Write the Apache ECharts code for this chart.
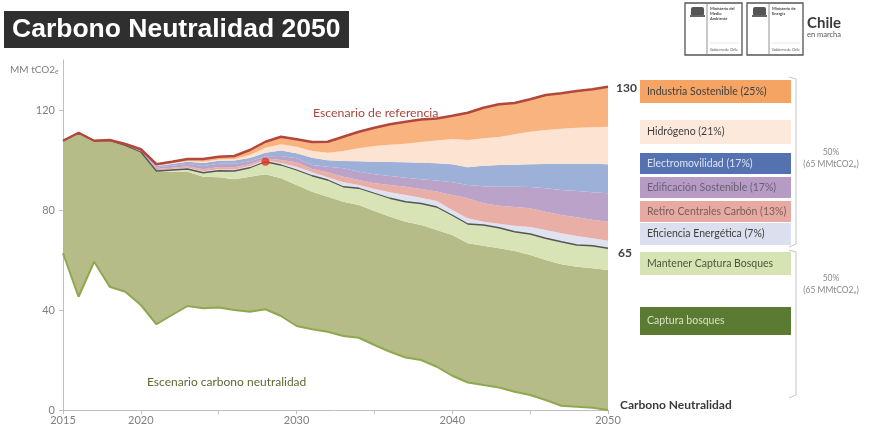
<!DOCTYPE html>
<html><head><meta charset="utf-8">
<script src="https://cdn.jsdelivr.net/npm/echarts@6/dist/echarts.min.js"></script>
<style>html,body{margin:0;padding:0;background:#fff}#c{width:870px;height:432px}</style>
</head><body><div id="c"></div>
<script>
const years = ['2015','2016','2017','2018','2019','2020','2021','2022','2023','2024','2025','2026','2027','2028','2029','2030','2031','2032','2033','2034','2035','2036','2037','2038','2039','2040','2041','2042','2043','2044','2045','2046','2047','2048','2049','2050'];
const xTickLabels = ['2015','2020','2030','2040','2050'];
// Escenario carbono neutralidad (emisiones netas)
const netNeutral = [62.7,45.3,59.3,49.3,47.3,42.0,34.3,38.0,41.6,40.7,41.0,40.0,39.3,40.3,37.6,33.6,32.3,31.3,29.6,28.9,26.0,23.3,21.0,20.0,17.3,13.7,11.0,10.0,9.0,7.3,6.0,4.0,1.7,1.3,0.9,0.0];
const capturaBosques = [45.0,65.6,48.4,58.5,58.5,61.2,61.3,57.3,53.7,52.6,52.1,52.3,54.0,54.0,55.1,56.4,55.0,54.0,53.7,53.1,53.6,54.0,54.3,54.0,54.7,56.3,55.7,55.7,55.7,56.3,56.0,56.0,56.6,56.0,55.8,56.0];
const mantenerCaptura = [0,0,0,0,0,0,0,0.7,1.1,1.6,2.6,3.3,3.6,5.0,5.3,6.0,6.4,6.7,6.0,6.7,7.1,7.4,8.0,8.6,9.2,7.9,7.7,8.3,8.2,7.7,8.4,8.7,9.0,8.7,9.0,8.7];
const eficiencia = [0,0,0,0,0,0.1,0.3,0.4,0.5,0.6,0.6,0.6,0.7,0.6,0.8,1.3,1.4,1.1,1.8,1.3,1.7,2.4,2.7,2.3,2.4,2.1,2.3,1.3,1.6,2.4,2.8,3.3,3.4,3.6,3.0,3.0];
const retiroCarbon = [0,0,0,0.1,0.2,0.3,0.5,0.5,0.6,0.8,0.9,0.9,0.8,0.7,1.2,1.8,1.3,2.0,2.2,2.0,2.3,2.9,3.3,3.5,3.8,6.0,8.0,7.4,7.2,7.5,7.5,7.3,7.3,7.5,7.4,7.6];
const edificacion = [0,0,0,0,0.1,0.2,0.6,0.8,0.9,1.3,1.3,1.4,1.1,0.9,1.6,1.6,1.6,2.2,3.4,3.3,3.6,3.6,3.6,3.9,4.4,5.1,5.3,6.8,7.6,8.1,8.5,9.4,10.0,10.5,11.0,11.4];
const electromovilidad = [0,0,0,0,0.1,0.2,0.6,0.7,0.9,1.2,1.2,1.3,1.3,1.4,2.2,2.0,2.9,2.6,2.9,4.2,5.0,5.6,6.2,6.6,6.9,7.2,7.1,8.2,8.7,8.8,9.1,9.7,10.5,10.9,11.4,11.6];
const hidrogeno = [0,0,0,0,0,0,0.2,0.3,0.3,0.5,0.5,0.6,1.2,2.0,2.5,2.6,2.7,3.0,4.0,5.2,6.3,6.9,7.4,8.3,9.1,10.1,10.9,11.0,11.2,12.2,13.0,13.6,14.0,14.4,14.6,15.0];
const industria = [0,0,0,0.1,0.2,0.3,0.5,0.6,0.8,1.1,1.1,1.2,2.0,2.4,3.0,3.0,3.6,4.4,5.7,6.6,7.3,8.2,8.8,9.0,8.8,9.3,10.9,12.2,13.1,12.5,13.0,14.0,14.2,14.7,15.2,16.0];
const hito = [['2028', 99.3]];
const legendLabels = ['Industria Sostenible (25%)','Hidrógeno (21%)','Electromovilidad (17%)','Edificación Sostenible (17%)','Retiro Centrales Carbón (13%)','Eficiencia Energética (7%)','Mantener Captura Bosques','Captura bosques'];
const endLabels = ['130','65','Carbono Neutralidad'];

const FONT = 'Lato, "Open Sans", sans-serif';
const chart = echarts.init(document.getElementById('c'), null, {renderer:'canvas'});

function band(name, data, color, extra){
  return Object.assign({
    name, type:'line', stack:'total', data, symbol:'none', showSymbol:false,
    lineStyle:{width:0, opacity:0}, areaStyle:{color, opacity:1}, itemStyle:{color},
    emphasis:{disabled:true}, z:2, animation:false
  }, extra||{});
}

const boxes = [
  {y:80,h:23,fill:'#f5a464',tc:'#3f3f3f'},
  {y:120,h:24,fill:'#fde9dc',tc:'#3f3f3f'},
  {y:153,h:21,fill:'#5572b0',tc:'#dde3f2'},
  {y:177,h:21,fill:'#b69cc5',tc:'#6b5f73'},
  {y:201,h:21,fill:'#e6aaa2',tc:'#7a5e5a'},
  {y:223,h:22,fill:'#dcdfee',tc:'#404040'},
  {y:252,h:23,fill:'#d6e3b3',tc:'#4f5540'},
  {y:307,h:28,fill:'#5a7b31',tc:'#d8e0c8'}
];
const graphics = [];
boxes.forEach((b,i)=>{
  graphics.push({type:'rect', shape:{x:640,y:b.y,width:151,height:b.h}, style:{fill:b.fill}, z:10});
  graphics.push({type:'text', x:647, y:b.y+b.h/2, style:{text:legendLabels[i], fill:b.tc, font:'10.5px '+FONT, verticalAlign:'middle'}, z:11});
});
// brackets
graphics.push({type:'polyline', shape:{points:[[789,77],[796,79],[796,244],[789,247]]}, style:{stroke:'#c4c4c4', lineWidth:1, fill:null}, z:10});
graphics.push({type:'polyline', shape:{points:[[789,250],[796,252],[796,395],[789,398]]}, style:{stroke:'#c4c4c4', lineWidth:1, fill:null}, z:10});
[[152,164],[278,290]].forEach(p=>{
  graphics.push({type:'text', x:831, y:p[0], style:{text:'50%', fill:'#8a8a8a', font:'8.5px '+FONT, align:'center', verticalAlign:'middle'}, z:10});
  graphics.push({type:'text', x:831, y:p[1], style:{text:'(65 MMtCO2{s|e})', fill:'#8a8a8a', font:'8.5px '+FONT, align:'center', verticalAlign:'middle', rich:{s:{fontSize:5.5, fill:'#8a8a8a', padding:[4,0,0,0]}}}, z:10});
});
// title
graphics.push({type:'rect', shape:{x:4,y:11,width:345,height:37}, style:{fill:'#2f2f2f'}, z:10});
graphics.push({type:'text', x:12, y:30, style:{text:'Carbono Neutralidad 2050', fill:'#ffffff', font:'bold 26.5px "Liberation Sans", Arial, sans-serif', verticalAlign:'middle'}, z:11});
// y axis unit
graphics.push({type:'text', x:10, y:70, style:{text:'MM tCO2{s|e}', fill:'#7f7f7f', font:'10px '+FONT, verticalAlign:'middle', rich:{s:{fontSize:6.5, fill:'#7f7f7f', padding:[5,0,0,0]}}}, z:10});
// annotations
graphics.push({type:'text', x:313, y:113, style:{text:'Escenario de referencia', fill:'#a8463d', font:'12.3px '+FONT, verticalAlign:'middle'}, z:10});
graphics.push({type:'text', x:147, y:382, style:{text:'Escenario carbono neutralidad', fill:'#5f6832', font:'12px '+FONT, verticalAlign:'middle'}, z:10});
graphics.push({type:'text', x:616, y:88, style:{text:endLabels[0], fill:'#404040', font:'bold 12px '+FONT, verticalAlign:'middle'}, z:10});
graphics.push({type:'text', x:618, y:253, style:{text:endLabels[1], fill:'#404040', font:'bold 12px '+FONT, verticalAlign:'middle'}, z:10});
graphics.push({type:'text', x:620, y:405, style:{text:endLabels[2], fill:'#3a3a3a', font:'bold 12px '+FONT, verticalAlign:'middle'}, z:10});
// logos
function logo(x, w, div, lines){
  graphics.push({type:'rect', shape:{x:x,y:3,width:w,height:52}, style:{fill:'#fff', stroke:'#555', lineWidth:1.3}, z:10});
  graphics.push({type:'line', shape:{x1:div,y1:4,x2:div,y2:54}, style:{stroke:'#777', lineWidth:0.8}, z:11});
  graphics.push({type:'rect', shape:{x:x+6,y:7,width:13,height:9,r:2}, style:{fill:'#555'}, z:11});
  graphics.push({type:'rect', shape:{x:x+5,y:15,width:15,height:2}, style:{fill:'#666'}, z:11});
  graphics.push({type:'text', x:div+3, y:6, style:{text:lines, fill:'#444', font:'bold 4px '+FONT, lineHeight:5}, z:11});
  graphics.push({type:'line', shape:{x1:div+3,y1:43,x2:x+w-3,y2:43}, style:{stroke:'#ddd', lineWidth:0.6}, z:11});
  graphics.push({type:'text', x:div+3, y:48, style:{text:'Gobierno de Chile', fill:'#555', font:'3.5px '+FONT}, z:11});
}
logo(685, 57, 707, 'Ministerio del\nMedio\nAmbiente');
logo(747, 56, 769, 'Ministerio de\nEnergía');
graphics.push({type:'text', x:807, y:23, style:{text:'Chile', fill:'#3a3a3a', font:'bold 15px '+FONT, verticalAlign:'middle'}, z:10});
graphics.push({type:'text', x:807, y:35, style:{text:'en marcha', fill:'#555', font:'7.5px '+FONT, verticalAlign:'middle'}, z:10});

const option = {
  animation:false,
  backgroundColor:'#ffffff',
  grid:{left:63, right:262, top:60, bottom:22, containLabel:false},
  xAxis:{
    type:'category', data:years, boundaryGap:false,
    axisLine:{show:true, lineStyle:{color:'#bfbfbf', width:1}},
    axisTick:{show:true, interval:(i)=>i%5===0, length:4, lineStyle:{color:'#bfbfbf'}},
    axisLabel:{interval:(i,v)=>xTickLabels.indexOf(v)>=0, color:'#7f7f7f', fontSize:11, fontFamily:FONT, margin:5},
    splitLine:{show:false}
  },
  yAxis:{
    type:'value', min:0, max:140, interval:40,
    axisLine:{show:true, lineStyle:{color:'#bfbfbf', width:1}},
    axisTick:{show:true, length:4, lineStyle:{color:'#bfbfbf'}},
    axisLabel:{color:'#7f7f7f', fontSize:11, fontFamily:FONT, margin:8, showMaxLabel:false},
    splitLine:{show:false}
  },
  series:[
    {name:'Escenario carbono neutralidad', type:'line', stack:'total', data:netNeutral, symbol:'none', showSymbol:false,
     lineStyle:{color:'#8ea84e', width:2}, itemStyle:{color:'#8ea84e'}, z:4, emphasis:{disabled:true}},
    band('Captura bosques', capturaBosques, '#b6bc88'),
    band('Mantener Captura Bosques', mantenerCaptura, '#d8e4b6', {lineStyle:{color:'#555555', width:1.3}, z:4}),
    band('Eficiencia Energética', eficiencia, '#dfe2ef'),
    band('Retiro Centrales Carbón', retiroCarbon, '#e9aea5'),
    band('Edificación Sostenible', edificacion, '#bba2c9'),
    band('Electromovilidad', electromovilidad, '#9db0d8'),
    band('Hidrógeno', hidrogeno, '#fde3d2'),
    band('Industria Sostenible', industria, '#f8b37f', {lineStyle:{color:'#b3473b', width:2.5}, z:5}),
    {name:'hito', type:'scatter', data:hito, symbol:'circle', symbolSize:8, itemStyle:{color:'#e0321f'}, z:6, emphasis:{disabled:true}}
  ],
  graphic:{elements:graphics}
};
chart.setOption(option);
</script></body></html>
